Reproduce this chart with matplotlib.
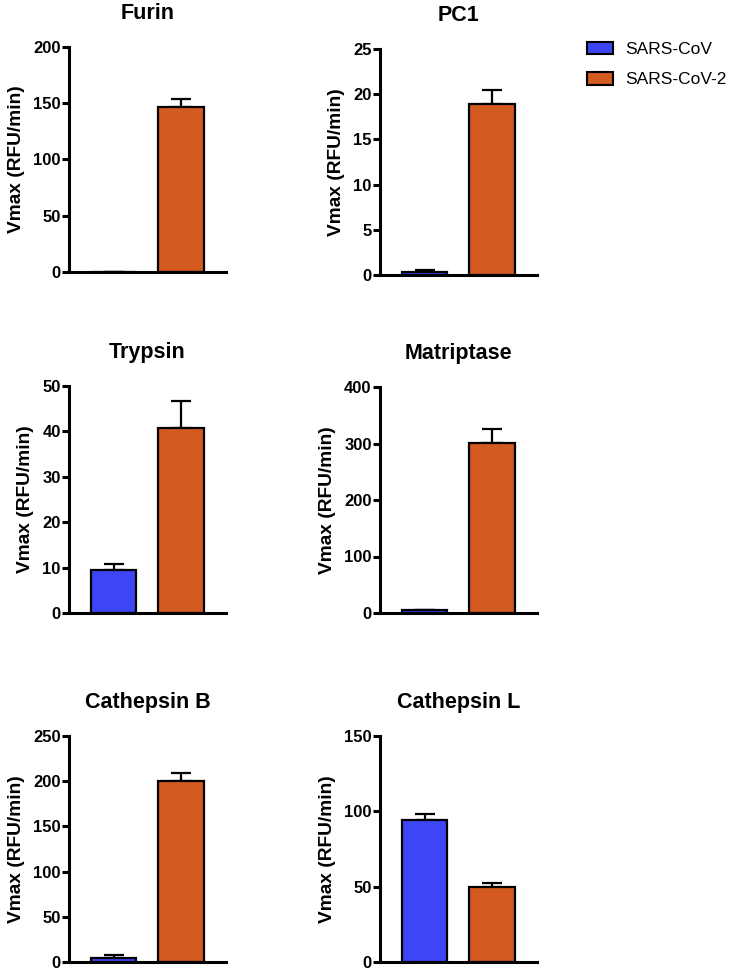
import matplotlib
matplotlib.use('Agg')
import matplotlib.pyplot as plt
from matplotlib.patches import Patch

plt.rcParams['font.family'] = ['Liberation Sans', 'DejaVu Sans']

# enzyme panels, values (Vmax, RFU/min)
enzymes = ['Furin', 'PC1', 'Trypsin', 'Matriptase', 'Cathepsin B', 'Cathepsin L']
sars_cov = [0.0, 0.3, 9.4, 5.0, 4.8, 94.4]
sars_cov_err = [0.0, 0.2, 1.3, 1.0, 2.6, 4.0]
sars_cov2 = [146.5, 18.9, 40.8, 300.6, 200.1, 49.6]
sars_cov2_err = [7.0, 1.6, 6.0, 25.0, 9.0, 2.7]
y_max = [200, 25, 50, 400, 250, 150]
y_step = [50, 5, 10, 100, 50, 50]
series_names = ['SARS-CoV', 'SARS-CoV-2']

BLUE = '#3c46f6'
ORANGE = '#d35a20'

W, H = 736, 971
fig = plt.figure(figsize=(W / 100, H / 100), dpi=100)

# pixel boxes (left, top, right, bottom) of each axes
boxes = [
    (69, 47, 226, 272), (380, 49, 537, 275),
    (69, 386, 226, 613), (380, 387, 537, 613),
    (69, 736, 226, 962), (380, 736, 537, 962),
]

for i, name in enumerate(enzymes):
    l, t, r, b = boxes[i]
    ax = fig.add_axes([l / W, 1 - b / H, (r - l) / W, (b - t) / H])
    vals = [sars_cov[i], sars_cov2[i]]
    errs = [sars_cov_err[i], sars_cov2_err[i]]
    ax.bar([0, 1], vals, width=0.68, color=[BLUE, ORANGE],
           edgecolor='black', linewidth=1.6, zorder=2)
    ax.errorbar([0, 1], vals, yerr=[[0, 0], errs], fmt='none', ecolor='black',
                elinewidth=1.6, capsize=7.5, capthick=1.6, zorder=1)
    ax.set_xlim(-0.66, 1.667)
    ax.set_ylim(0, y_max[i])
    ax.set_yticks(range(0, y_max[i] + 1, y_step[i]))
    ax.set_xticks([])
    for s in ['top', 'right']:
        ax.spines[s].set_visible(False)
    for s in ['left', 'bottom']:
        ax.spines[s].set_linewidth(2.2)
    ax.tick_params(axis='y', direction='out', length=5, width=2.2, pad=1,
                   labelsize=12)
    for lbl in ax.get_yticklabels():
        lbl.set_fontweight('bold')
    ax.set_ylabel('Vmax (RFU/min)', fontsize=13.8, fontweight='bold', labelpad=6)
    ax.set_title(name, fontsize=15.5, fontweight='bold', pad=20)

handles = [Patch(facecolor=BLUE, edgecolor='black', linewidth=1.5),
           Patch(facecolor=ORANGE, edgecolor='black', linewidth=1.5)]
fig.legend(handles, series_names, loc='upper left',
           bbox_to_anchor=(571 / W, 1 - 26 / H), frameon=False, fontsize=12.5,
           handlelength=1.5, handleheight=0.75, handletextpad=0.7,
           labelspacing=0.85)

fig.savefig('out.png', dpi=100)
